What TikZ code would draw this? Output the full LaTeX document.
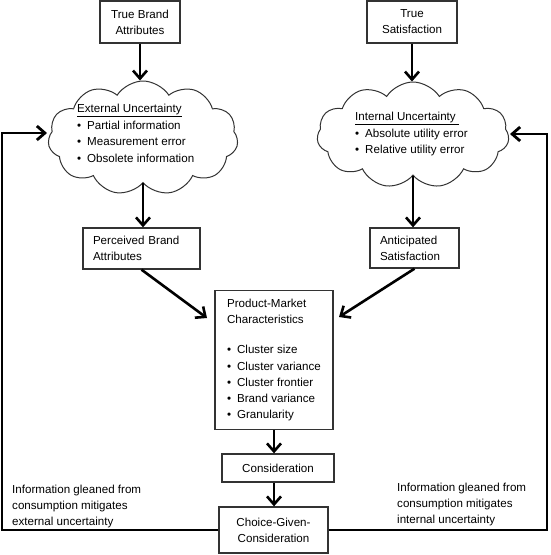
\documentclass[tikz,border=0pt]{standalone}
\usepackage{fontspec}
\setmainfont{Liberation Sans}
\usetikzlibrary{shapes.symbols,arrows.meta}
\tikzset{
  box/.style={draw=black!80, line width=1.3pt, inner sep=0pt},
  arr/.style={line width=2.6pt, -{Straight Barb[length=8pt,width=14pt]}},
  loop/.style={line width=2.8pt},
  puff/.style={cloud, draw=black!80, line width=1pt, cloud puffs=11, cloud puff arc=115, cloud ignores aspect, inner sep=0pt},
  lst/.style={anchor=north west, inner sep=0pt, align=left, font=\fontsize{11.6}{16.5}\selectfont},
}
\newcommand{\itm}[1]{\makebox[10pt][l]{\textbullet}#1}
\begin{document}
\begin{tikzpicture}[x=1pt,y=-1pt, every node/.style={font=\fontsize{11.6}{16}\selectfont}]
\useasboundingbox (0,0) rectangle (550,555);
% top boxes
\node[box, minimum width=80pt, minimum height=42pt, align=center] (tba) at (140,22) {True Brand\\Attributes};
\node[box, minimum width=90pt, minimum height=42pt, align=center] (ts) at (412,22) {True\\Satisfaction};
% clouds
\node[puff, minimum width=190pt, minimum height=114pt] (extcloud) at (143,138) {};
\node[puff, minimum width=192pt, minimum height=106pt] (intcloud) at (413,135) {};
\node[lst] (extlist) at (77,104) {\underline{External Uncertainty}\\ \itm{Partial information}\\ \itm{Measurement error}\\ \itm{Obsolete information}};
\node[lst] (intlist) at (355,112) {\underline{Internal Uncertainty\ }\\ \itm{Absolute utility error}\\ \itm{Relative utility error}};
% perceived
\node[box, minimum width=117pt, minimum height=41pt, text width=97pt, align=left] (pba) at (141.5,248.5) {Perceived Brand\\Attributes};
\node[box, minimum width=89pt, minimum height=40pt, text width=69pt, align=left] (ant) at (414.5,248) {Anticipated\\Satisfaction};
% product-market
\node[box, anchor=north, minimum width=118pt, minimum height=139pt, align=left, font=\fontsize{11.6}{16.25}\selectfont] (pm) at (274,290) {Product-Market\\ Characteristics\\[13.75pt] \itm{Cluster size}\\ \itm{Cluster variance}\\ \itm{Cluster frontier}\\ \itm{Brand variance}\\ \itm{Granularity}};
\node[box, minimum width=112pt, minimum height=28pt] (cons) at (278,468) {Consideration};
\node[box, minimum width=109pt, minimum height=46pt, align=center] (choice) at (273.5,530) {Choice-Given-\\Consideration};
% notes
\node[anchor=north west, inner sep=0pt, align=left] (extnote) at (12,484.5) {Information gleaned from\\consumption mitigates\\external uncertainty};
\node[anchor=north west, inner sep=0pt, align=left] (intnote) at (397,482.5) {Information gleaned from\\consumption mitigates\\internal uncertainty};
% arrows
\coordinate (pmL) at (207,318);
\coordinate (pmR) at (339,317);
\coordinate (extin) at (47,133);
\coordinate (intin) at (510,134);
\draw[arr] (tba.south) -- (tba.south |- extcloud.north);
\draw[arr] (ts.south) -- (ts.south |- intcloud.north);
\draw[arr] (extcloud.south) -- (extcloud.south |- pba.north);
\draw[arr] (intcloud.south) -- (intcloud.south |- ant.north);
\draw[arr] (pba.south) -- (pmL);
\draw[arr] (ant.south) -- (pmR);
\draw[arr] (pm.south) -- (pm.south |- cons.north);
\draw[arr] (pm.south |- cons.south) -- (pm.south |- choice.north);
% feedback
\draw[arr, loop] (choice.west) -| (2,133) -- (extin);
\draw[arr, loop] (choice.east) -| (547,134) -- (intin);
\end{tikzpicture}
\end{document}
